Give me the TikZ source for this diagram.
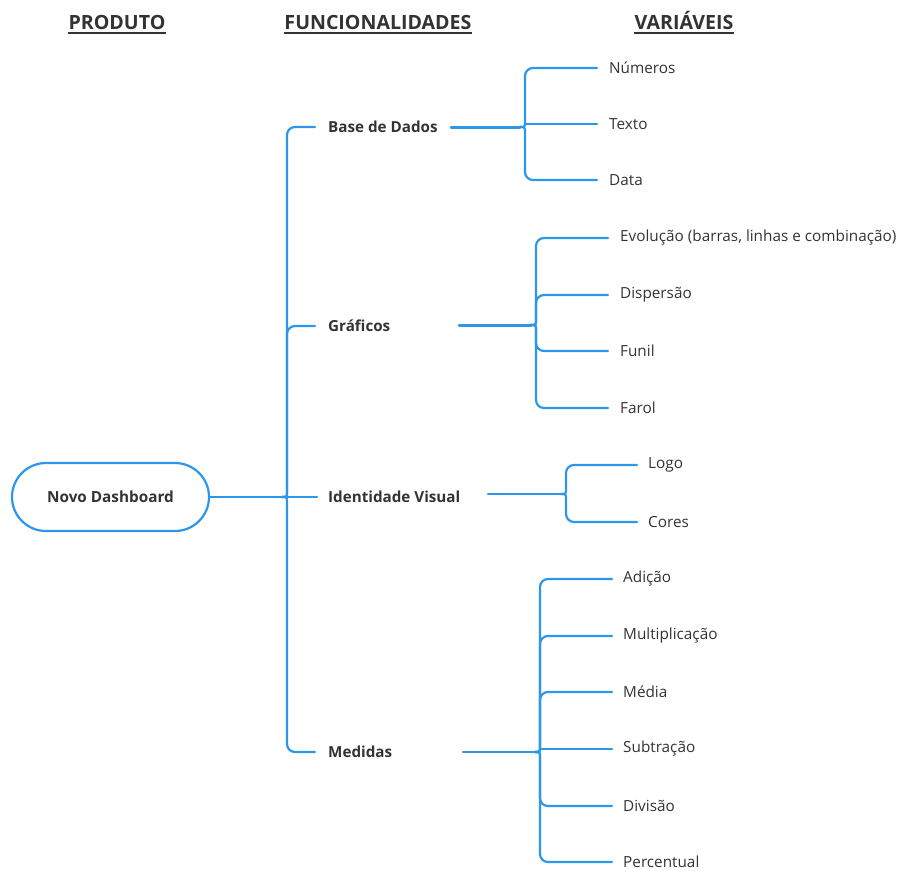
\documentclass[tikz,border=0pt]{standalone}
\usepackage{fontspec}
\setmainfont{Open Sans}
\usetikzlibrary{calc}
\definecolor{lnk}{HTML}{2D96EB}
\definecolor{txt}{HTML}{333333}
\begin{document}
\begin{tikzpicture}[x=1pt,y=-1pt,
  hdr/.style={font=\bfseries\fontsize{19.6}{22}\selectfont,text=txt,inner sep=0pt,anchor=base},
  lvl/.style={font=\bfseries\fontsize{15.2}{18}\selectfont,text=txt,inner sep=0pt,anchor=west},
  leaf/.style={font=\fontsize{15.3}{18}\selectfont,text=txt,inner sep=0pt,anchor=west},
  con/.style={draw=lnk,line width=2.2pt,line cap=round,line join=round},
  thk/.style={con,line width=3pt},
]
\useasboundingbox (0,0) rectangle (899,870);

% headers
\node[hdr] (h1) at (117,29) {PRODUTO};
\node[hdr] (h2) at (378,29) {FUNCIONALIDADES};
\node[hdr] (h3) at (684,29) {VARIÁVEIS};
\foreach \h in {h1,h2,h3}
  \draw[txt,line width=1.8pt] ([yshift=-4pt]\h.base west) -- ([yshift=-4pt]\h.base east);

% root
\node[draw=lnk,line width=2.2pt,rounded corners=34pt,minimum width=197pt,minimum height=68pt,
  font=\bfseries\fontsize{15.3}{18}\selectfont,text=txt] (root) at (110.5,497) {Novo Dashboard};

% level 2
\node[lvl] (b1) at (328,127) {Base de Dados};
\node[lvl] (b2) at (328,326) {Gráficos};
\node[lvl] (b3) at (328,497) {Identidade Visual};
\node[lvl] (b4) at (328,752) {Medidas};

\coordinate (J0) at (282,497);
\draw[con] (root.east) -- (J0);
\draw[con] (J0) -- ([xshift=-11pt]b3.west);
\foreach \b in {b1,b2}
  \draw[con] (J0) .. controls ($(J0)+(5,0)$) .. ($(J0)+(5,-6)$) [rounded corners=8pt] |- ([xshift=-13pt]\b.west);
\draw[con] (J0) .. controls ($(J0)+(5,0)$) .. ($(J0)+(5,6)$) [rounded corners=8pt] |- ([xshift=-13pt]b4.west);

% level 3 nodes
\node[leaf] (n1) at (609,68) {Números};
\node[leaf] (n2) at (609,124) {Texto};
\node[leaf] (n3) at (609,180) {Data};

\node[leaf] (g1) at (620,238) {Evolução (barras, linhas e combinação)};
\node[leaf] (g2) at (620,295) {Dispersão};
\node[leaf] (g3) at (620,351) {Funil};
\node[leaf] (g4) at (620,408) {Farol};

\node[leaf] (i1) at (648,465) {Logo};
\node[leaf] (i2) at (648,522) {Cores};

\node[leaf] (m1) at (623,579) {Adição};
\node[leaf] (m2) at (623,636) {Multiplicação};
\node[leaf] (m3) at (623,692) {Média};
\node[leaf] (m4) at (623,749) {Subtração};
\node[leaf] (m5) at (623,806) {Divisão};
\node[leaf] (m6) at (623,862) {Percentual};

% junctions
\coordinate (b1r) at (451,127);
\coordinate (JB) at (520,127);
\coordinate (b2r) at (459,325);
\coordinate (JG) at (531,325);
\coordinate (b3r) at (488,494);
\coordinate (JI) at (561,494);
\coordinate (b4r) at (463,752);
\coordinate (JM) at (535,752);

\draw[thk] (b1r) -- (JB);
\draw[thk] (b2r) -- (JG);
\draw[con] (b3r) -- (JI);
\draw[con] (b4r) -- (JM);

% Base de Dados
\draw[con] (JB) .. controls ($(JB)+(5,0)$) .. ($(JB)+(5,-6)$) [rounded corners=8pt] |- ([xshift=-12pt]n1.west);
\draw[con] ($(JB)+(5,-3)$) |- ([xshift=-12pt]n2.west);
\draw[con] (JB) .. controls ($(JB)+(5,0)$) .. ($(JB)+(5,6)$) [rounded corners=8pt] |- ([xshift=-12pt]n3.west);

% Graficos
\foreach \c in {g1,g2}
  \draw[con] (JG) .. controls ($(JG)+(5,0)$) .. ($(JG)+(5,-6)$) [rounded corners=8pt] |- ([xshift=-12pt]\c.west);
\foreach \c in {g3,g4}
  \draw[con] (JG) .. controls ($(JG)+(5,0)$) .. ($(JG)+(5,6)$) [rounded corners=8pt] |- ([xshift=-12pt]\c.west);

% Identidade Visual
\draw[con] (JI) .. controls ($(JI)+(5,0)$) .. ($(JI)+(5,-6)$) [rounded corners=8pt] |- ([xshift=-11pt]i1.west);
\draw[con] (JI) .. controls ($(JI)+(5,0)$) .. ($(JI)+(5,6)$) [rounded corners=8pt] |- ([xshift=-11pt]i2.west);

% Medidas
\foreach \c in {m1,m2,m3}
  \draw[con] (JM) .. controls ($(JM)+(5,0)$) .. ($(JM)+(5,-6)$) [rounded corners=8pt] |- ([xshift=-11pt]\c.west);
\draw[con] ($(JM)+(5,-3)$) |- ([xshift=-11pt]m4.west);
\foreach \c in {m5,m6}
  \draw[con] (JM) .. controls ($(JM)+(5,0)$) .. ($(JM)+(5,6)$) [rounded corners=8pt] |- ([xshift=-11pt]\c.west);
\end{tikzpicture}
\end{document}
